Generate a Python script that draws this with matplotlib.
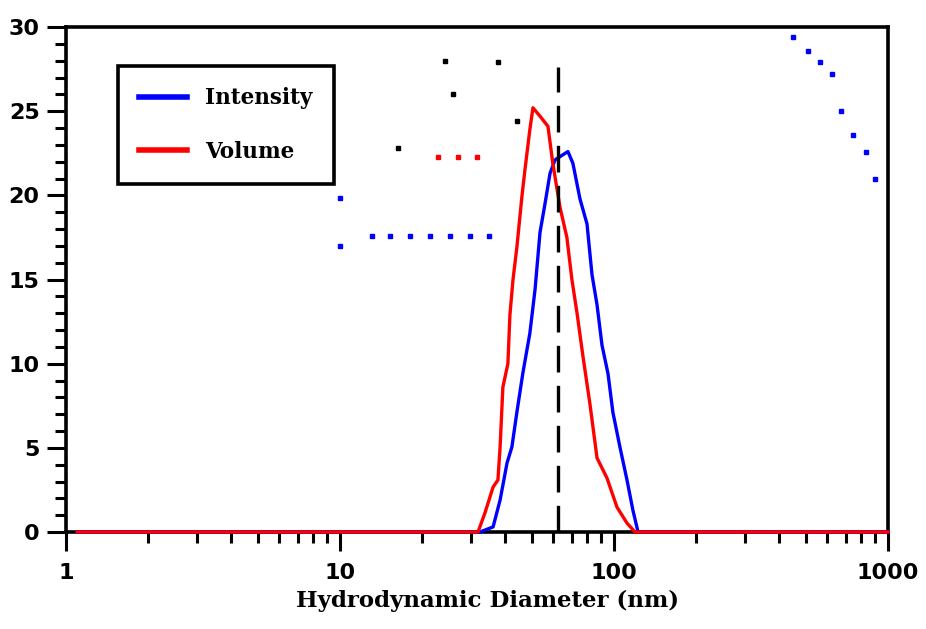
import matplotlib
matplotlib.use('Agg')
import matplotlib.pyplot as plt
from matplotlib.ticker import LogLocator, MultipleLocator, FixedLocator, FixedFormatter, NullFormatter

# size distribution (diameter in nm, percent)
intensity_d = [1.1, 32.4, 36.2, 38.4, 40.7, 42.4, 44.2, 46.5, 49.3, 51.5, 53.7, 56.0,
               58.4, 60.9, 63.5, 67.9, 70.8, 75.1, 79.7, 83.1, 86.7, 90.4, 95.1,
               99.1, 105.1, 111.5, 117.2, 122.4, 1000]
intensity_pct = [0, 0, 0.3, 1.9, 4.1, 5.05, 7.1, 9.45, 11.8, 14.4, 17.8, 19.5,
                 21.3, 22.1, 22.3, 22.6, 21.9, 19.8, 18.3, 15.3, 13.5, 11.1, 9.4,
                 7.1, 5.05, 3.1, 1.3, 0, 0]

volume_d = [1.1, 31.9, 33.8, 36.2, 37.7, 38.4, 39.3, 41.0, 41.7, 42.8, 44.2, 46.1,
            47.3, 49.3, 50.6, 53.7, 57.4, 59.8, 63.5, 67.3, 70.2, 73.3, 77.1,
            81.7, 86.7, 94.3, 102.5, 111.5, 119.3, 1000]
volume_pct = [0, 0, 1.13, 2.67, 3.09, 5.05, 8.6, 10.0, 12.9, 15.0, 16.9, 19.9,
              21.5, 23.9, 25.2, 24.7, 24.1, 21.9, 19.3, 17.5, 15.0, 13.0, 10.4,
              7.6, 4.4, 3.2, 1.48, 0.53, 0, 0]

mean_diameter = 62.5
mean_top = 27.6

# stray marker dots left over in the original figure
blue_dot_d = [10, 10, 13.1, 15.2, 18.0, 21.3, 25.2, 29.8, 35.0,
              450, 511, 565, 625, 674, 745, 831, 897]
blue_dot_pct = [19.85, 17.0, 17.6, 17.6, 17.6, 17.6, 17.6, 17.6, 17.6,
                29.4, 28.6, 27.9, 27.2, 25.0, 23.6, 22.6, 21.0]
red_dot_d = [22.8, 27.0, 31.6]
red_dot_pct = [22.3, 22.3, 22.3]
black_dot_d = [24.2, 37.7, 25.9, 16.3, 44.2]
black_dot_pct = [28.0, 27.9, 26.0, 22.8, 24.4]

x_ticks = [1, 10, 100, 1000]
x_labels = ['1', '10', '100', '1000']

fig = plt.figure(figsize=(9.26, 6.29), dpi=100)
ax = fig.add_axes([66 / 926, 1 - 532 / 629, 822 / 926, 505 / 629])

ax.plot(intensity_d, intensity_pct, color='#0000ff', lw=2.4, label='Intensity',
        clip_on=False, zorder=4)
ax.plot(volume_d, volume_pct, color='#ff0000', lw=2.4, label='Volume',
        clip_on=False, zorder=5)
ax.plot([mean_diameter, mean_diameter], [0, mean_top], color='black', lw=2.4,
        ls=(0, (8, 4)), zorder=6)

ax.plot(blue_dot_d, blue_dot_pct, 's', color='#0000ff', ms=3, zorder=3)
ax.plot(red_dot_d, red_dot_pct, 's', color='#ff0000', ms=3, zorder=3)
ax.plot(black_dot_d, black_dot_pct, 's', color='black', ms=3, zorder=3)

ax.set_xscale('log')
ax.set_xlim(1, 1000)
ax.set_ylim(0, 30)

ax.xaxis.set_major_locator(FixedLocator(x_ticks))
ax.xaxis.set_major_formatter(FixedFormatter(x_labels))
ax.xaxis.set_minor_locator(LogLocator(base=10, subs=range(2, 10)))
ax.xaxis.set_minor_formatter(NullFormatter())
ax.yaxis.set_major_locator(MultipleLocator(5))
ax.yaxis.set_minor_locator(MultipleLocator(1))

ax.tick_params(which='major', direction='out', length=14, width=2.2,
               labelsize=16, pad=5)
ax.tick_params(which='minor', direction='out', length=8, width=2.2)
ax.tick_params(axis='x', which='major', pad=8)
for lab in ax.get_xticklabels() + ax.get_yticklabels():
    lab.set_fontweight('bold')

for sp in ax.spines.values():
    sp.set_linewidth(2.6)

ax.set_xlabel('Hydrodynamic Diameter (nm)', fontsize=16.5, fontweight='bold',
              family='DejaVu Serif', labelpad=7)
ax.xaxis.set_label_coords(0.513, -0.115)

leg = ax.legend(loc='upper left', bbox_to_anchor=(0.063, 0.923), fancybox=False,
                framealpha=1, edgecolor='black', borderpad=1.0, labelspacing=1.45,
                handlelength=2.2, handletextpad=0.85, borderaxespad=0,
                prop={'family': 'DejaVu Serif', 'weight': 'bold', 'size': 15.5})
leg.get_frame().set_linewidth(2.6)
for h in leg.get_lines():
    h.set_linewidth(4)

fig.savefig('out.png', dpi=100)
